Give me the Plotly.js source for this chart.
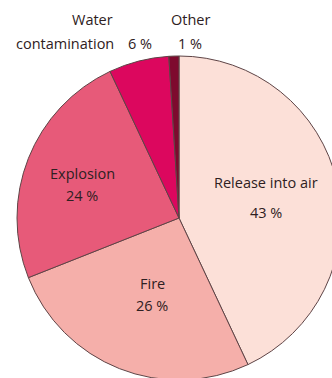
<!DOCTYPE html>
<html>
<head>
<meta charset="utf-8">
<script src="https://cdn.plot.ly/plotly-3.0.1.min.js"></script>
<style>
html,body{margin:0;padding:0;overflow:hidden;background:#fff;width:332px;height:378px;}
#chart{width:345px;height:382px;}
</style>
</head>
<body>
<div id="chart"></div>
<script>
var labels = ['Release into air', 'Fire', 'Explosion', 'Water contamination', 'Other'];
var values = [43, 26, 24, 6, 1];
var colors = ['#fce0d8', '#f5afaa', '#e75a79', '#dc075e', '#7e0a2e'];

var W = 345, H = 382;
function px(x){ return x / W; }
function py(y){ return 1 - y / H; }
var fontFam = '"Open Sans", sans-serif';
var txtColor = '#2e2022';

function ann(text, x, y){
  return {text: text, x: px(x), y: py(y), xref: 'paper', yref: 'paper',
          showarrow: false, xanchor: 'center', yanchor: 'middle',
          font: {family: fontFam, size: 14.5, color: txtColor}};
}
var pct = values.map(function(v){ return v + ' %'; });
var waterWords = labels[3].split(' ');

var annotations = [
  ann(labels[0], 266, 182), ann(pct[0], 266, 212),
  ann(labels[1], 152, 283), ann(pct[1], 152, 305),
  ann(labels[2], 82, 173), ann(pct[2], 82, 195),
  ann(waterWords[0], 92, 20), ann(waterWords[1], 65, 43), ann(pct[3], 140, 43),
  ann(labels[4], 190, 20), ann(pct[4], 190, 43)
];

var data = [{
  type: 'pie',
  labels: labels,
  values: values,
  sort: false,
  direction: 'clockwise',
  rotation: 0,
  textinfo: 'none',
  hoverinfo: 'none',
  marker: {colors: colors, line: {color: '#5e4446', width: 1}},
  domain: {x: [17 / W, 341 / W], y: [1 - 380 / H, 1 - 56 / H]}
}];

var layout = {
  width: W, height: H,
  margin: {l: 0, r: 0, t: 0, b: 0},
  showlegend: false,
  paper_bgcolor: '#ffffff',
  annotations: annotations
};

Plotly.newPlot('chart', data, layout, {staticPlot: true, displayModeBar: false});
</script>
</body>
</html>
